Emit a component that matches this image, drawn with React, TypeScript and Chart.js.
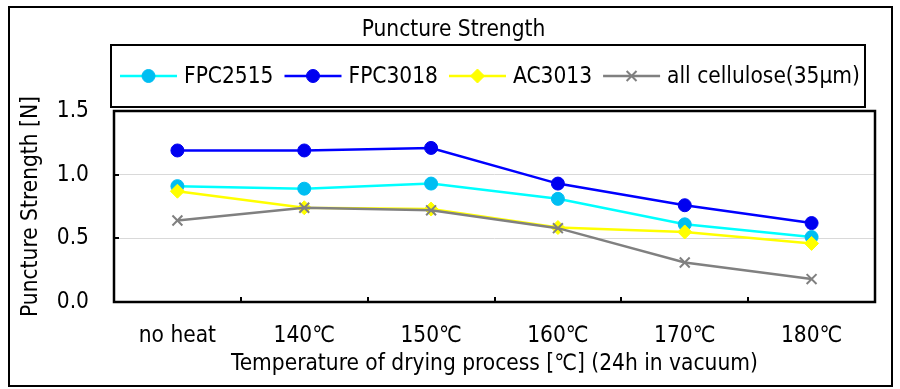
import React, { useEffect, useRef } from 'react';
import { Chart, registerables } from 'chart.js';
import { drawPoint } from 'chart.js/helpers';

Chart.register(...registerables);

const chartTitle = 'Puncture Strength';
const categories = ['no heat', '140℃', '150℃', '160℃', '170℃', '180℃'];
const seriesLabels = ['FPC2515', 'FPC3018', 'AC3013', 'all cellulose(35μm)'];
const fpc2515 = [0.91, 0.89, 0.93, 0.81, 0.61, 0.51];
const fpc3018 = [1.19, 1.19, 1.21, 0.93, 0.76, 0.62];
const ac3013 = [0.87, 0.74, 0.73, 0.585, 0.55, 0.46];
const allCellulose = [0.64, 0.74, 0.72, 0.58, 0.31, 0.18];
const yTickValues = [0, 0.5, 1.0, 1.5];

const FONT = '"DejaVu Sans Condensed", "DejaVu Sans", sans-serif';
const FS = 22.5;

const framePlugin = {
  id: 'frameAndTicks',
  afterDatasetsDraw(chart: any) {
    const { ctx, chartArea } = chart;
    const { left, right, top, bottom } = chartArea;
    const xs = chart.scales.x;
    const ys = chart.scales.y;
    ctx.save();
    ctx.strokeStyle = '#000';
    ctx.lineWidth = 2;
    ys.ticks.forEach((t: any) => {
      const py = Math.round(ys.getPixelForValue(t.value));
      ctx.beginPath();
      ctx.moveTo(left, py);
      ctx.lineTo(left + 5, py);
      ctx.stroke();
    });
    for (let i = 1; i < categories.length; i++) {
      const px = Math.round((xs.getPixelForValue(i - 1) + xs.getPixelForValue(i)) / 2);
      ctx.beginPath();
      ctx.moveTo(px, bottom);
      ctx.lineTo(px, bottom - 5);
      ctx.stroke();
    }
    ctx.lineWidth = 2.5;
    ctx.strokeRect(left, top, right - left, bottom - top);
    ctx.restore();
  },
  afterDraw(chart: any) {
    const { ctx, chartArea } = chart;
    ctx.save();
    ctx.strokeStyle = '#000';
    ctx.lineWidth = 2;
    ctx.strokeRect(9, 7, chart.width - 17, chart.height - 10);

    ctx.font = `${FS}px ${FONT}`;
    ctx.fillStyle = '#000';
    ctx.textBaseline = 'middle';
    ctx.textAlign = 'center';
    ctx.fillText(chartTitle, (9 + chart.width - 8) / 2 + 3, 30);

    ctx.textAlign = 'left';
    const boxLeft = chartArea.left - 3;
    const boxTop = 45;
    const boxBottom = 107;
    const cy = 76;
    let x = boxLeft + 9;
    chart.data.datasets.forEach((ds: any) => {
      ctx.strokeStyle = ds.borderColor;
      ctx.lineWidth = ds.borderWidth;
      ctx.beginPath();
      ctx.moveTo(x, cy);
      ctx.lineTo(x + 57, cy);
      ctx.stroke();
      ctx.fillStyle = ds.pointBackgroundColor;
      ctx.strokeStyle = ds.pointBorderColor;
      ctx.lineWidth = ds.pointBorderWidth;
      drawPoint(ctx, { pointStyle: ds.pointStyle, rotation: 0, radius: ds.pointRadius, borderWidth: ds.pointBorderWidth }, x + 28.5, cy);
      x += 57 + 7;
      ctx.fillStyle = '#000';
      ctx.fillText(ds.label, x, cy + 1);
      x += ctx.measureText(ds.label).width + 11;
    });
    const boxRight = x - 11 + 5;
    ctx.strokeStyle = '#000';
    ctx.lineWidth = 2;
    ctx.strokeRect(boxLeft, boxTop, boxRight - boxLeft, boxBottom - boxTop);
    ctx.restore();
  },
};

export default function App() {
  const ref = useRef<HTMLCanvasElement | null>(null);
  useEffect(() => {
    if (!ref.current) return;
    const mk = (label: string, data: number[], line: string, fill: string, style: string, radius: number, pbw: number, order: number) => ({
      label,
      data,
      borderColor: line,
      backgroundColor: fill,
      borderWidth: 2.5,
      pointBackgroundColor: fill,
      pointBorderColor: fill,
      pointBorderWidth: pbw,
      pointStyle: style,
      pointRadius: radius,
      pointHoverRadius: radius,
      tension: 0,
      fill: false,
      order,
    });
    const chart = new Chart(ref.current, {
      type: 'line',
      data: {
        labels: categories,
        datasets: [
          mk(seriesLabels[0], fpc2515, '#00FFFF', '#00BEF2', 'circle', 6.5, 1, 4),
          mk(seriesLabels[1], fpc3018, '#0000FF', '#0000F0', 'circle', 6.5, 1, 3),
          mk(seriesLabels[2], ac3013, '#FFFF00', '#FFFF00', 'rectRot', 7, 1, 2),
          mk(seriesLabels[3], allCellulose, '#808080', '#808080', 'crossRot', 7, 2, 1),
        ] as any,
      },
      options: {
        animation: false,
        responsive: false,
        events: [],
        layout: { padding: { left: 0, right: 25, top: 111, bottom: 0 } },
        plugins: {
          legend: { display: false },
          tooltip: { enabled: false },
          title: { display: false },
        },
        scales: {
          x: {
            offset: true,
            grid: { display: false, offset: true },
            border: { display: false },
            ticks: {
              color: '#000',
              font: { family: FONT, size: FS },
              padding: 13,
              maxRotation: 0,
              autoSkip: false,
            },
            title: {
              display: true,
              text: 'Temperature of drying process [℃] (24h in vacuum)',
              color: '#000',
              font: { family: FONT, size: FS },
              padding: { top: 0, bottom: 11.5 },
            },
            afterFit: (s: any) => { s.height = 87; },
          },
          y: {
            min: 0,
            max: 1.5,
            afterBuildTicks: (s: any) => { s.ticks = yTickValues.map((v) => ({ value: v })); },
            grid: { color: '#d9d9d9', lineWidth: 1, drawTicks: false },
            border: { display: false },
            ticks: {
              color: '#000',
              font: { family: FONT, size: FS },
              padding: 25,
              callback: (v: any) => Number(v).toFixed(1),
            },
            title: {
              display: true,
              text: 'Puncture Strength [N]',
              color: '#000',
              font: { family: FONT, size: FS },
              padding: { top: 17.5, bottom: 0 },
            },
            afterFit: (s: any) => { s.width = 114; },
          },
        },
      },
      plugins: [framePlugin],
    });
    return () => chart.destroy();
  }, []);
  return (
    <div style={{ position: 'fixed', left: 0, top: 0, width: 900, height: 389, background: '#fff' }}>
      <canvas ref={ref} width={900} height={389} style={{ display: 'block' }} />
    </div>
  );
}
